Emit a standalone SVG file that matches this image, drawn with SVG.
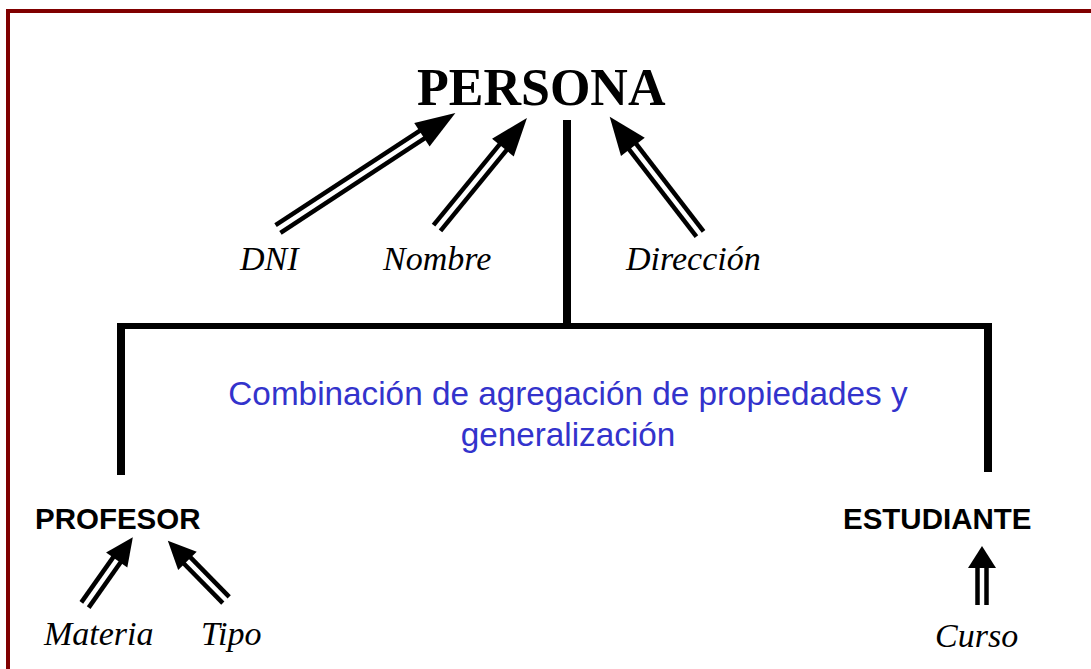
<svg xmlns="http://www.w3.org/2000/svg" width="1091" height="669" viewBox="0 0 1091 669">
<style>
.title{font-family:"Liberation Serif","Times New Roman",serif;font-weight:bold;font-size:52px;fill:#000}
.attr{font-family:"Liberation Serif","Times New Roman",serif;font-style:italic;font-size:34px;fill:#000}
.ent{font-family:"Liberation Sans",Arial,sans-serif;font-weight:bold;font-size:29.5px;fill:#000}
.note{font-family:"Liberation Sans",Arial,sans-serif;font-size:33.3px;fill:#3333cc}
.conn{stroke:#000;fill:none}
.shaft{stroke:#000;stroke-width:4.5;fill:none}
.head{fill:#000}
</style>
<rect x="0" y="0" width="1091" height="669" fill="#fff"/>
<rect x="8" y="11" width="1100" height="680" fill="none" stroke="#800000" stroke-width="4"/>

<g id="connectors">
  <line class="conn" x1="567" y1="120" x2="567" y2="326" stroke-width="8"/>
  <line class="conn" x1="117" y1="326" x2="992" y2="326" stroke-width="6"/>
  <line class="conn" x1="121" y1="323" x2="121" y2="475" stroke-width="8"/>
  <line class="conn" x1="988" y1="323" x2="988" y2="472" stroke-width="8"/>

  <g id="arrow-dni" transform="translate(278,229) rotate(-33.2)">
    <line class="shaft" x1="0" y1="-4.5" x2="174" y2="-4.5"/>
    <line class="shaft" x1="0" y1="4.5" x2="174" y2="4.5"/>
    <polygon class="head" points="172,-14 212,0 172,14"/>
  </g>
  <g id="arrow-nombre" transform="translate(437,228) rotate(-50.7)">
    <line class="shaft" x1="0" y1="-4.5" x2="106" y2="-4.5"/>
    <line class="shaft" x1="0" y1="4.5" x2="106" y2="4.5"/>
    <polygon class="head" points="104,-14 142,0 104,14"/>
  </g>
  <g id="arrow-direccion" transform="translate(700,234) rotate(-127.6)">
    <line class="shaft" x1="0" y1="-4.5" x2="112" y2="-4.5"/>
    <line class="shaft" x1="0" y1="4.5" x2="112" y2="4.5"/>
    <polygon class="head" points="110,-15 148,0 110,15"/>
  </g>
  <g id="arrow-materia" transform="translate(85,605) rotate(-54.8)">
    <line class="shaft" x1="0" y1="-4.5" x2="57" y2="-4.5"/>
    <line class="shaft" x1="0" y1="4.5" x2="57" y2="4.5"/>
    <polygon class="head" points="55,-13 83,0 55,13"/>
  </g>
  <g id="arrow-tipo" transform="translate(226,600) rotate(-134.5)">
    <line class="shaft" x1="0" y1="-4.5" x2="57" y2="-4.5"/>
    <line class="shaft" x1="0" y1="4.5" x2="57" y2="4.5"/>
    <polygon class="head" points="55,-13 83,0 55,13"/>
  </g>
  <g id="arrow-curso" transform="translate(982,605) rotate(-90)">
    <line class="shaft" x1="0" y1="-4.5" x2="39" y2="-4.5"/>
    <line class="shaft" x1="0" y1="4.5" x2="39" y2="4.5"/>
    <polygon class="head" points="37,-14 59,0 37,14"/>
  </g>
</g>

<g id="persona"><text class="title" x="417" y="105">PERSONA</text></g>
<g id="dni"><text class="attr" x="240" y="270">DNI</text></g>
<g id="nombre"><text class="attr" x="383" y="270">Nombre</text></g>
<g id="direccion"><text class="attr" x="626" y="270">Dirección</text></g>
<g id="nota">
  <text class="note" x="568" y="405" text-anchor="middle">Combinación de agregación de propiedades y</text>
  <text class="note" x="568" y="446" text-anchor="middle">generalización</text>
</g>
<g id="profesor"><text class="ent" x="35" y="529">PROFESOR</text></g>
<g id="estudiante"><text class="ent" x="843" y="529">ESTUDIANTE</text></g>
<g id="materia"><text class="attr" x="44" y="645">Materia</text></g>
<g id="tipo"><text class="attr" x="201" y="645">Tipo</text></g>
<g id="curso"><text class="attr" x="935" y="647">Curso</text></g>
</svg>
